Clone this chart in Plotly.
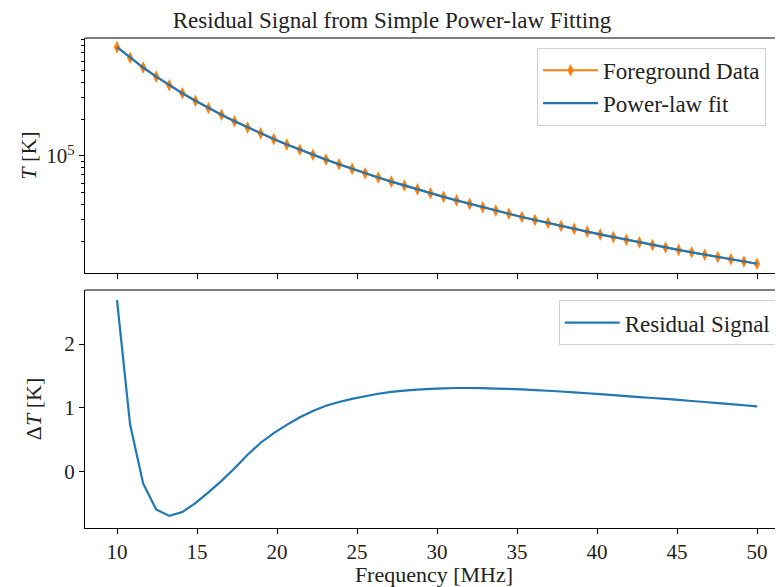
import plotly.graph_objects as go

freq = [10.000, 10.816, 11.633, 12.449, 13.265, 14.082, 14.898, 15.714, 16.531, 17.347,
        18.163, 18.980, 19.796, 20.612, 21.429, 22.245, 23.061, 23.878, 24.694, 25.510,
        26.327, 27.143, 27.959, 28.776, 29.592, 30.408, 31.224, 32.041, 32.857, 33.673,
        34.490, 35.306, 36.122, 36.939, 37.755, 38.571, 39.388, 40.204, 41.020, 41.837,
        42.653, 43.469, 44.286, 45.102, 45.918, 46.735, 47.551, 48.367, 49.184, 50.000]

foreground = [780000, 639000, 531000, 447000, 380500, 326900, 283500, 247400, 217600, 192500,
              171300, 153100, 137600, 124200, 112500, 102300, 93400, 85500, 78500, 72300,
              66700, 61700, 57270, 53220, 49570, 46270, 43250, 40500, 37990, 35690,
              33590, 31650, 29870, 28220, 26700, 25290, 23980, 22760, 21630, 20570,
              19590, 18660, 17800, 16990, 16240, 15530, 14860, 14230, 13640, 13080]

powerlaw_fit = [779997, 638999, 531000, 447001, 380501, 326901, 283500, 247400, 217600, 192500,
                171300, 153100, 137599, 124199, 112499, 102299, 93399, 85499, 78499, 72299,
                66699, 61699, 57269, 53219, 49569, 46269, 43249, 40499, 37989, 35689,
                33589, 31649, 29869, 28219, 26699, 25289, 23979, 22759, 21629, 20569,
                19589, 18659, 17799, 16989, 16239, 15529, 14859, 14229, 13639, 13079]

residual = [2.69, 0.74, -0.19, -0.60, -0.70, -0.64, -0.50, -0.33, -0.15, 0.05,
            0.26, 0.45, 0.60, 0.73, 0.85, 0.95, 1.03, 1.09, 1.14, 1.18,
            1.22, 1.25, 1.27, 1.285, 1.297, 1.305, 1.31, 1.31, 1.307, 1.30,
            1.295, 1.287, 1.278, 1.267, 1.255, 1.242, 1.228, 1.213, 1.198, 1.183,
            1.168, 1.153, 1.138, 1.122, 1.106, 1.09, 1.073, 1.056, 1.039, 1.022]

x_ticks = [10, 15, 20, 25, 30, 35, 40, 45, 50]
res_ticks = [0, 1, 2]
log_major = [1e5]
log_minor = [2e4, 3e4, 4e4, 5e4, 6e4, 7e4, 8e4, 9e4, 2e5, 3e5, 4e5, 5e5, 6e5, 7e5, 8e5, 9e5]

ORANGE = "#ff7f0e"
BLUE = "#1f77b4"
FONT = "Liberation Serif"
TXT = "#222222"

fig = go.Figure()
fig.add_trace(go.Scatter(x=freq, y=foreground, mode="lines+markers", name="Foreground Data",
                         line=dict(color=ORANGE, width=2),
                         marker=dict(symbol="diamond-tall", size=9, color=ORANGE),
                         xaxis="x", yaxis="y", legend="legend"))
fig.add_trace(go.Scatter(x=freq, y=powerlaw_fit, mode="lines", name="Power-law fit",
                         line=dict(color=BLUE, width=2.2),
                         xaxis="x", yaxis="y", legend="legend"))
fig.add_trace(go.Scatter(x=freq, y=residual, mode="lines", name="Residual Signal",
                         line=dict(color=BLUE, width=2.2, simplify=False),
                         xaxis="x2", yaxis="y2", legend="legend2"))

top_dom = [0.5204, 1.0]
bot_dom = [0.0, 0.4857]
xr = [8, 51.625]

axis_common = dict(showline=True, linecolor="black", linewidth=1.2, ticks="outside",
                   ticklen=5, tickwidth=1, tickcolor="black", showgrid=False, zeroline=False,
                   automargin=False,
                   tickfont=dict(family=FONT, size=21, color=TXT))

# the page body adds an 8px offset, so the figure is 8px smaller than the window
fig.update_layout(
    width=775, height=579,
    margin=dict(l=77, r=0, t=30, b=59),
    paper_bgcolor="white", plot_bgcolor="white",
    font=dict(family=FONT, color=TXT),
    title=dict(text="Residual Signal from Simple Power-law Fitting", xref="container",
               x=0.4955, xanchor="center", y=0.979, yanchor="middle",
               font=dict(family=FONT, size=23, color=TXT)),
    xaxis=dict(domain=[0, 1], anchor="y", range=xr, tickvals=x_ticks, showticklabels=False,
               **axis_common),
    yaxis=dict(domain=top_dom, anchor="x", type="log", range=[4.041, 5.967],
               tickvals=log_major, ticktext=["10<sup>5</sup>"],
               minor=dict(tickvals=log_minor, ticks="outside", ticklen=3, tickcolor="black"),
               title=dict(text="<i>T</i> [K]", font=dict(family=FONT, size=22, color=TXT), standoff=3),
               **axis_common),
    xaxis2=dict(domain=[0, 1], anchor="y2", range=xr, tickvals=x_ticks,
                title=dict(text="Frequency [MHz]", font=dict(family=FONT, size=22, color=TXT), standoff=3),
                **axis_common),
    yaxis2=dict(domain=bot_dom, anchor="x2", range=[-0.89, 2.85], tickvals=res_ticks,
                title=dict(text="Δ<i>T</i> [K]", font=dict(family=FONT, size=22, color=TXT), standoff=16),
                **axis_common),
    legend=dict(x=0.6476, y=0.98, xanchor="left", yanchor="top", bgcolor="white",
                bordercolor="#d0d0d0", borderwidth=1, font=dict(family=FONT, size=23, color=TXT),
                itemwidth=55, tracegroupgap=0),
    legend2=dict(x=0.991, y=0.465, xanchor="right", yanchor="top", bgcolor="white",
                 bordercolor="#d0d0d0", borderwidth=1, font=dict(family=FONT, size=23, color=TXT),
                 itemwidth=55),
    showlegend=True,
)

for dom in (top_dom, bot_dom):
    fig.add_shape(type="line", xref="paper", yref="paper", x0=0, x1=1.02, y0=dom[1], y1=dom[1],
                  line=dict(color="black", width=1.2))

fig.write_html("out.html")
